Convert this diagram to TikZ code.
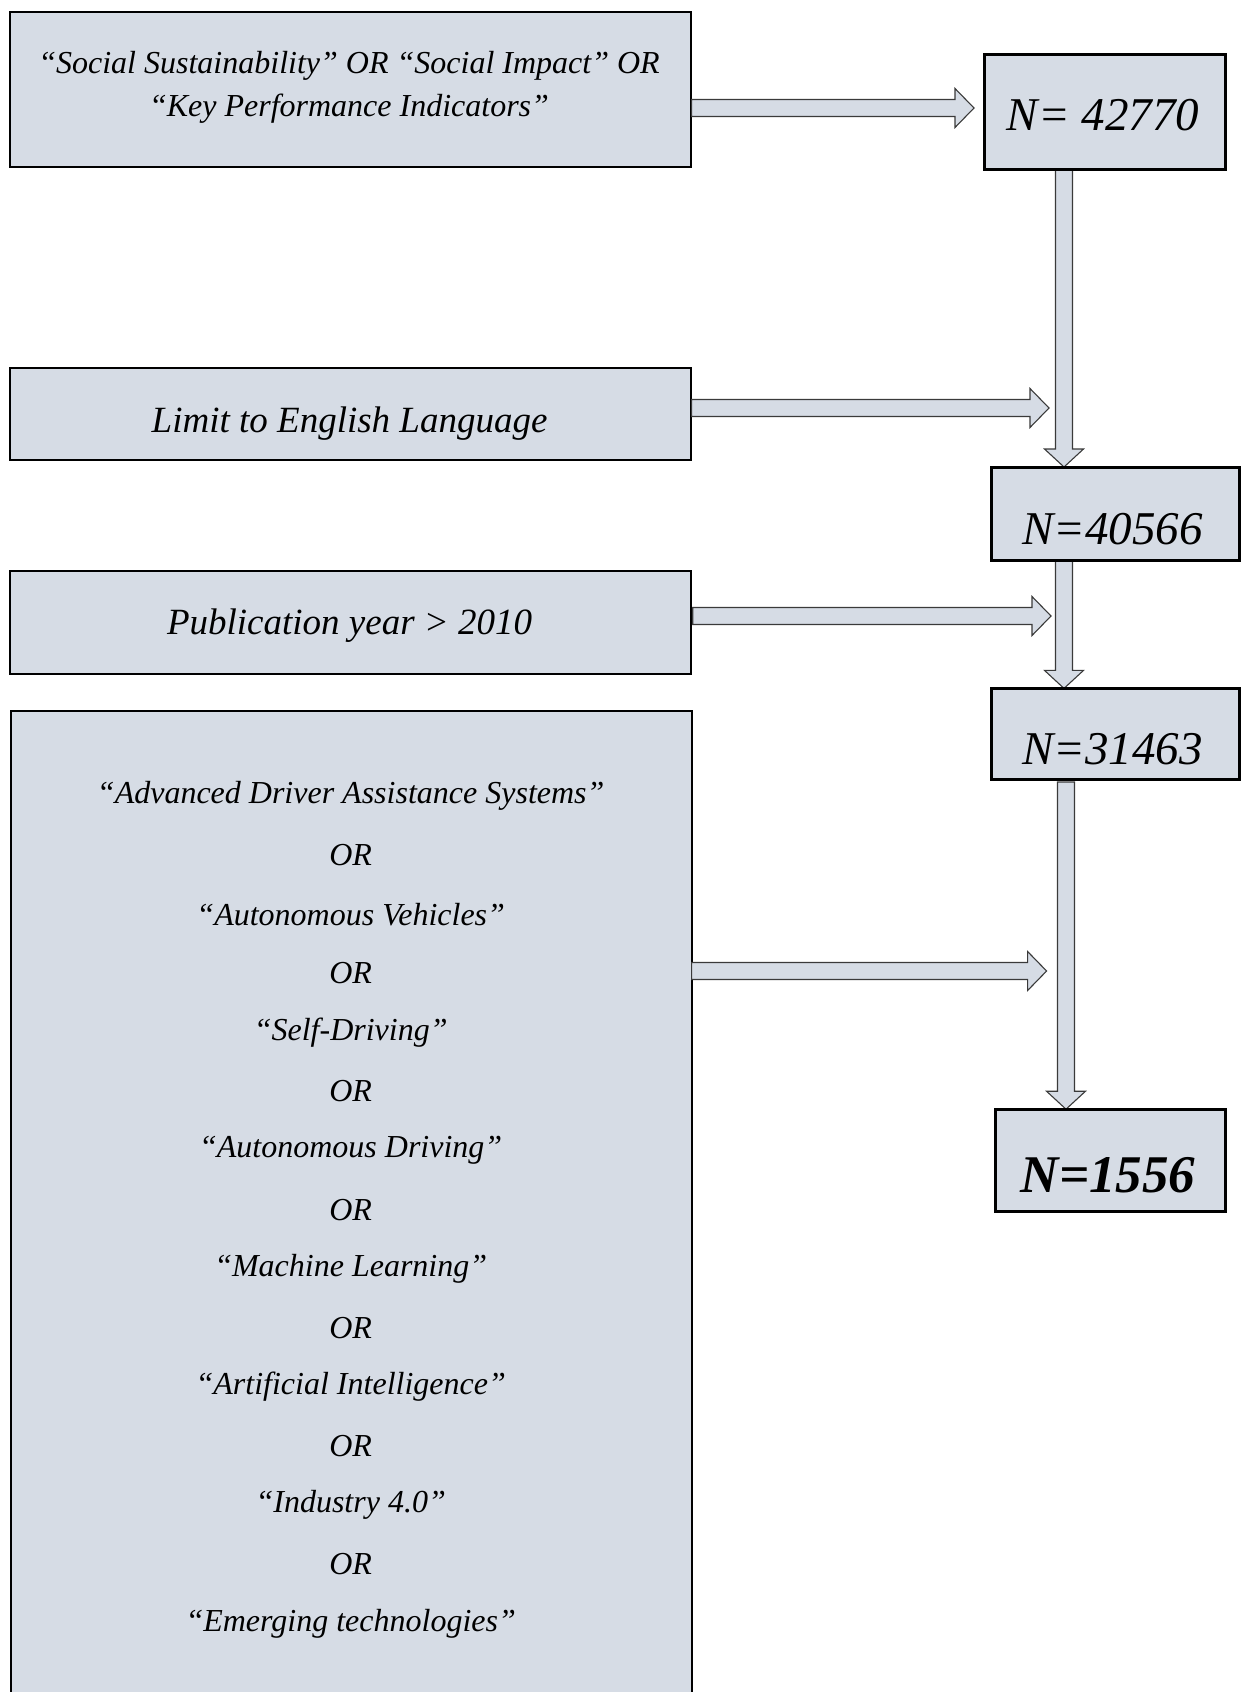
\documentclass[tikz,border=0pt]{standalone}
\usepackage{fontspec}
\setmainfont{Liberation Serif}
\usetikzlibrary{calc}
\definecolor{boxfill}{HTML}{D6DCE5}
\definecolor{arrowline}{HTML}{3A3A3A}
\tikzset{
  stagebox/.style={draw=black, line width=2pt, fill=boxfill, inner sep=0pt},
  blockarrow/.style={draw=arrowline, line width=1.1pt, fill=boxfill, line join=miter},
  termtxt/.style={font=\fontsize{32}{43}\selectfont\itshape, align=center, inner sep=0pt},
  bigtxt/.style={font=\fontsize{37}{40}\selectfont\itshape, inner sep=0pt},
  listtxt/.style={font=\fontsize{32}{34}\selectfont\itshape, inner sep=0pt},
  counttxt/.style={font=\fontsize{47}{50}\selectfont\itshape, inner sep=0pt},
}
% horizontal block arrow: from the x of #1 to the tip #2
\newcommand\hblock[2]{%
  \draw[blockarrow] let \p1=(#1), \p2=(#2) in
  (\x1,\y2-8.5pt) -- (\x2-19pt,\y2-8.5pt) -- (\x2-19pt,\y2-19.5pt) -- (\x2,\y2)
  -- (\x2-19pt,\y2+19.5pt) -- (\x2-19pt,\y2+8.5pt) -- (\x1,\y2+8.5pt) -- cycle;}
% vertical block arrow: from the y of #1 down to the tip #2
\newcommand\vblock[2]{%
  \draw[blockarrow] let \p1=(#1), \p2=(#2) in
  (\x2-8.5pt,\y1) -- (\x2-8.5pt,\y2+18pt) -- (\x2-19.5pt,\y2+18pt) -- (\x2,\y2)
  -- (\x2+19.5pt,\y2+18pt) -- (\x2+8.5pt,\y2+18pt) -- (\x2+8.5pt,\y1) -- cycle;}
\begin{document}
\begin{tikzpicture}[x=1pt, y=-1pt]
\useasboundingbox (0,0) rectangle (1243,1692);

% search-term boxes (left column)
\node[stagebox, minimum width=681pt, minimum height=155pt, anchor=north west] (q1) at (8.6,10.8) {};
\node[stagebox, minimum width=681pt, minimum height=91.6pt, anchor=north west] (q2) at (8.6,367) {};
\node[stagebox, minimum width=681pt, minimum height=103pt, anchor=north west] (q3) at (8.6,570) {};
% the last query box runs off the bottom of the page
\fill[boxfill] (10.8,711) rectangle (691.6,1692);
\draw[line width=2pt] (10.8,1692) -- (10.8,711) -- (691.6,711) -- (691.6,1692);
\coordinate (q4) at (691.6,971);

% result boxes (right column)
\node[stagebox, minimum width=239.6pt, minimum height=114.3pt, anchor=north west] (n1) at (984,54) {};
\node[stagebox, minimum width=247.1pt, minimum height=92pt, anchor=north west] (n2) at (990.5,467) {};
\node[stagebox, minimum width=247.1pt, minimum height=89.6pt, anchor=north west] (n3) at (990.5,688.4) {};
\node[stagebox, minimum width=228.8pt, minimum height=100.4pt, anchor=north west] (n4) at (994.8,1109.2) {};

% columns of the downward arrows
\coordinate (c1) at (1064,0);
\coordinate (c2) at (1066,0);

% arrows
\hblock{q1.east}{974,108}
\hblock{q2.east}{1049,408}
\hblock{692.7,616}{1051,616}
\hblock{q4}{1046.6,971}
\vblock{n1.south}{n2.north -| c1}
\vblock{n2.south}{n3.north -| c1}
\vblock{782,782}{n4.north -| c2}
\draw[line width=2pt] (n1.north west) rectangle (n1.south east);
\draw[line width=2pt] (n2.north west) rectangle (n2.south east);
\draw[line width=2pt] (n3.north west) rectangle (n3.south east);
\draw[line width=2pt] (n4.north west) rectangle (n4.south east);

% texts
\node[termtxt] at (349,87) {“Social Sustainability” OR “Social Impact” OR\\“Key Performance Indicators”};
\node[bigtxt] at (349.6,424) {Limit to English Language};
\node[bigtxt] at (349.6,625.5) {Publication year > 2010};

\node[counttxt] at (1103,115) {N= 42770};
\node[counttxt] at (1112.6,529.5) {N=40566};
\node[counttxt] at (1112.6,749.5) {N=31463};
\node[counttxt, font=\fontsize{53}{56}\selectfont\bfseries\itshape] at (1108,1175) {N=1556};

\foreach \t [count=\i from 0] in {%
  {“Advanced Driver Assistance Systems”}, OR,
  {“Autonomous Vehicles”}, OR,
  {“Self-Driving”}, OR,
  {“Autonomous Driving”}, OR,
  {“Machine Learning”}, OR,
  {“Artificial Intelligence”}, OR,
  {“Industry 4.0”}, OR,
  {“Emerging technologies”}}
  \node[listtxt] at (350.7, 796+59.1*\i) {\t};
\end{tikzpicture}
\end{document}
